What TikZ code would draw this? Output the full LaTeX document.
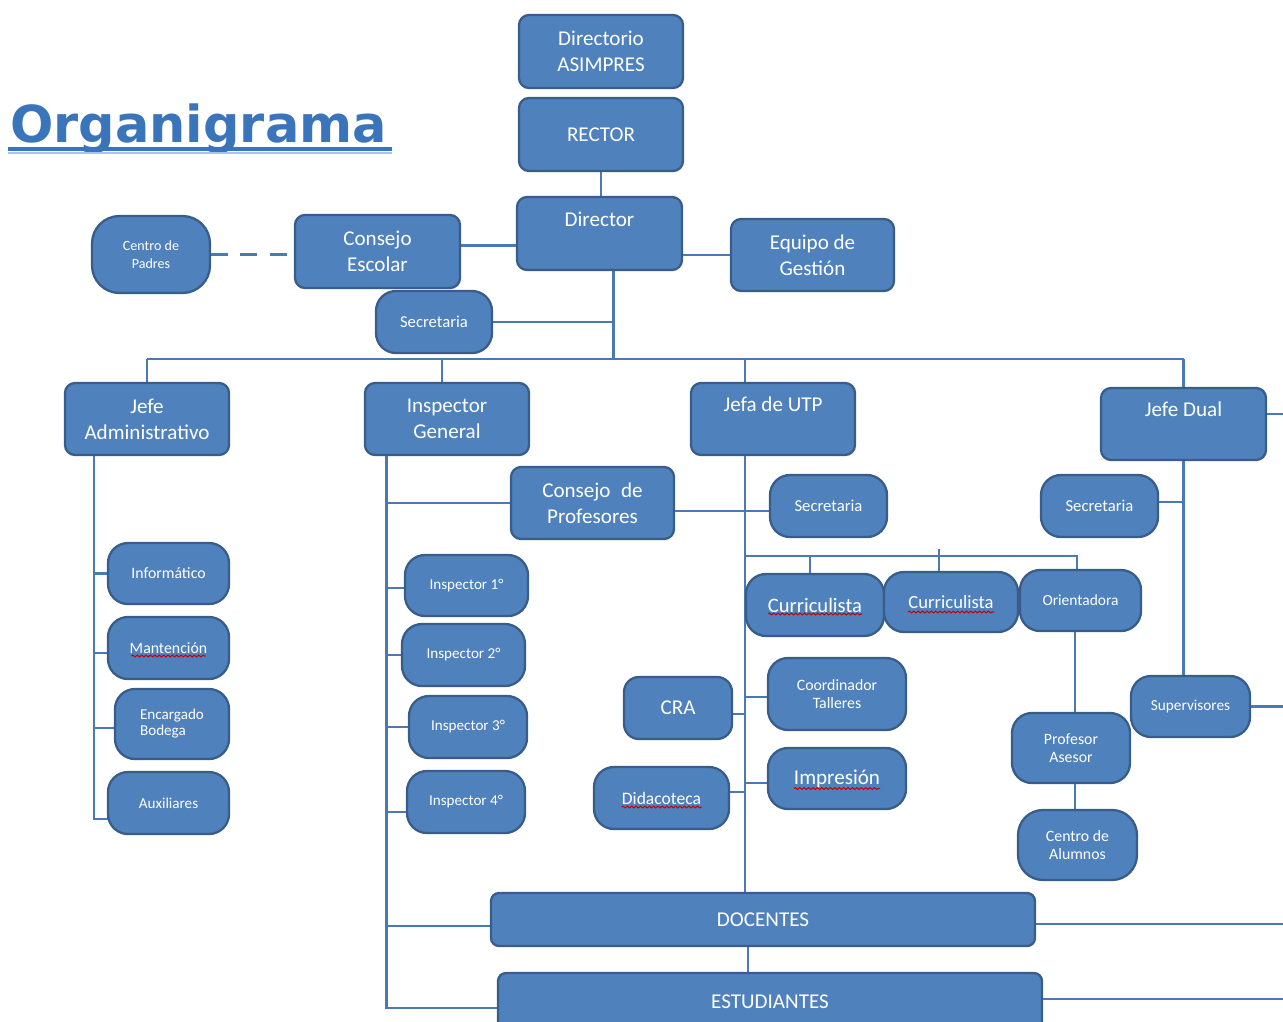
\documentclass[tikz,border=0pt]{standalone}
\usepackage{fontspec}
\setmainfont{Carlito}
\newfontfamily\titlefont{DejaVu Sans}
\usetikzlibrary{calc,backgrounds,decorations.pathmorphing}
\definecolor{boxc}{HTML}{4F81BD}
\definecolor{bord}{HTML}{385D8A}
\definecolor{linec}{HTML}{4A7AB5}
\definecolor{titlec}{HTML}{3A75BC}
\definecolor{titlelight}{HTML}{A9C4E8}
\tikzset{
  sz/.style 2 args={minimum width={#1*0.02cm}, minimum height={#2*0.02cm}},
  fs/.style 2 args={font=\fontsize{#1}{#2}\selectfont},
  box/.style={draw=bord, fill=boxc, line width=1.3pt, text=white, rounded corners=0.2cm,
    inner sep=0pt, outer sep=0pt, align=center, font=\fontsize{12}{14.7}\selectfont},
  pill/.style={box, rounded corners=0.4cm},
  conn/.style={draw=linec, line width=1.6pt},
  squig/.style={draw=red!80!black, line width=0.6pt, decorate,
    decoration={snake, amplitude=0.5pt, segment length=2.5pt}}
}
\begin{document}
\begin{tikzpicture}[x=0.02cm,y=-0.02cm]
\useasboundingbox (0,0) rectangle (1283,1021);
\clip (0,0) rectangle (1283,1021);

% title
\node[font=\titlefont\bfseries\fontsize{29}{30}\selectfont, text=titlec, anchor=base west, inner sep=0pt] (title) at (10,142) {Organigrama};
\draw[titlec, line width=2.2pt] (8,149) -- (392,149);
\draw[titlelight, line width=1pt] (8,153) -- (392,153);

% nodes
\node[box, sz={164}{73}] (dirA) at (601,51.5) {Directorio\\ASIMPRES};
\node[box, sz={164}{73}] (rector) at (601,134.5) {RECTOR};
\node[box, sz={165}{73}] (director) at (599.5,233.5) {Director\\\phantom{g}};
\node[box, sz={163}{72}] (equipo) at (812.5,255) {Equipo de\\Gestión};
\node[box, sz={165}{73}] (consejoE) at (377.5,251.5) {Consejo\\Escolar};
\node[pill, rounded corners=0.55cm, sz={118}{77}, fs={8}{10.2}] (cpadres) at (151,254.5) {Centro de\\Padres};
\node[pill, sz={116}{62}, fs={9.5}{11}] (secre1) at (434,322) {Secretaria};
\node[box, sz={164}{72}] (jadm) at (147,419) {Jefe\\Administrativo};
\node[box, sz={164}{72}] (insG) at (447,419) {Inspector\\General};
\node[box, sz={164}{72}] (utp) at (773,419) {Jefa de UTP\\\phantom{g}};
\node[box, sz={165}{72}] (dual) at (1183.5,424) {Jefe Dual\\\phantom{g}};
\node[box, sz={163}{72}] (cprof) at (592.5,503) {Consejo\enspace de\\Profesores};
\node[pill, sz={117}{62}, fs={9.5}{11}] (secU) at (828.5,506) {Secretaria};
\node[pill, sz={117}{62}, fs={9.5}{11}] (secD) at (1099.5,506) {Secretaria};
\node[pill, sz={138}{62}, fs={11.7}{14}] (cur1) at (815,605) {Curriculista};
\node[pill, sz={134}{60}, fs={10.6}{13}] (cur2) at (951,602) {Curriculista};
\node[pill, sz={121}{61}, fs={8.8}{10.5}] (orient) at (1080.5,600.5) {Orientadora};
\node[pill, sz={138}{72}, fs={9}{10.2}] (coord) at (837,694) {Coordinador\\Talleres};
\node[pill, rounded corners=0.3cm, sz={108}{62}] (cra) at (678,708) {CRA};
\node[pill, sz={138}{61}] (impr) at (837,778.5) {Impresión};
\node[pill, sz={135}{62}, fs={10}{12}] (dida) at (661.5,798) {Didacoteca};
\node[pill, sz={119}{61}, fs={8.7}{10.5}] (superv) at (1190.5,706.5) {Supervisores};
\node[pill, sz={118}{70}, fs={9}{10.2}] (profA) at (1071,748) {Profesor\\Asesor};
\node[pill, rounded corners=0.5cm, sz={119}{70}, fs={9}{10.2}] (cAlum) at (1077.5,845) {Centro de\\Alumnos};
\node[pill, sz={121}{61}, fs={9}{10.5}] (info) at (168.5,573.5) {Informático};
\node[pill, sz={121}{62}, fs={9}{10.5}] (mant) at (168.5,648) {Mantención};
\node[pill, sz={114}{70}, fs={8.6}{9.1}, align=left] (enc) at (172,724) {Encargado\\Bodega};
\node[pill, sz={121}{62}, fs={8.6}{10}] (aux) at (168.5,803) {Auxiliares};
\node[pill, sz={123}{61}, fs={8.6}{10}] (i1) at (466.5,585.5) {Inspector 1°};
\node[pill, sz={123}{62}, fs={8.6}{10}] (i2) at (463.5,655) {Inspector 2°};
\node[pill, sz={118}{62}, fs={8.6}{10}] (i3) at (468,727) {Inspector 3°};
\node[pill, sz={118}{62}, fs={8.6}{10}] (i4) at (466,802) {Inspector 4°};
\node[box, rounded corners=0.16cm, sz={544}{53}] (doc) at (763,919.5) {DOCENTES};
\node[box, rounded corners=0.16cm, sz={544}{57}] (est) at (770,1001.5) {ESTUDIANTES};

% spell-check marks
\draw[squig] ($(mant.center)+(-37,8)$) -- ++(74,0);
\draw[squig] ($(cur1.center)+(-47,9)$) -- ++(94,0);
\draw[squig] ($(cur2.center)+(-43,10)$) -- ++(86,0);
\draw[squig] ($(impr.center)+(-43,10)$) -- ++(86,0);
\draw[squig] ($(dida.center)+(-40,9)$) -- ++(80,0);

% connectors
\begin{scope}[on background layer]
\draw[conn] (rector.center) -- (rector.center |- director.center);
\draw[conn] ($(consejoE.center)+(0,-6)$) coordinate (t1) -- (t1 -| director.center);
\draw[conn, dash pattern=on 10pt off 7pt] (cpadres.east) -- (cpadres.east -| consejoE.west);
\draw[conn] (equipo.center) -- (equipo.center -| director.center);
\coordinate (busY) at (0,359);
\draw[conn] ($(director.center)+(14,0)$) coordinate (ds) -- (ds |- busY);
\draw[conn] (secre1.center) -- (secre1.center -| ds);
\draw[conn] (jadm.center |- busY) -- (dual.center |- busY);
\draw[conn] (jadm.center |- busY) -- (jadm.center);
\draw[conn] ($(insG.center)+(-5,0)$) coordinate (ig) -- (ig |- busY);
\draw[conn] (dual.center) -- (dual.center |- busY);
\coordinate (usp) at ($(utp.center)+(-28,0)$);
\draw[conn] (usp |- busY) -- (usp |- doc.center);
% Jefe administrativo
\coordinate (jsp) at ($(jadm.center)+(-53,0)$);
\draw[conn] (jsp) |- ($(aux.center)+(0,16)$);
\draw[conn] (info.center) -- (info.center -| jsp);
\draw[conn] ($(mant.center)+(0,5)$) coordinate (t2) -- (t2 -| jsp);
\draw[conn] ($(enc.center)+(0,4)$) coordinate (t3) -- (t3 -| jsp);
% Inspector general
\coordinate (isp) at ($(insG.center)+(-60.5,0)$);
\draw[conn] (isp) |- ($(est.center)+(0,6.5)$);
\draw[conn] (cprof.center) -- (cprof.center -| isp);
\draw[conn] ($(i1.center)+(0,2.5)$) coordinate (t4) -- (t4 -| isp);
\draw[conn] (i2.center) -- (i2.center -| isp);
\draw[conn] (i3.center) -- (i3.center -| isp);
\draw[conn] ($(i4.center)+(0,10)$) coordinate (t5) -- (t5 -| isp);
\draw[conn] ($(doc.center)+(0,6.5)$) coordinate (t6) -- (t6 -| isp);
% UTP
\draw[conn] ($(cprof.center)+(0,8)$) coordinate (t7) -- (t7 -| secU.center);
\coordinate (sb) at (0,556);
\draw[conn] (usp |- sb) -| ($(orient.center)+(-3.5,0)$);
\draw[conn] ($(cur1.center)+(-5,0)$) coordinate (c1) -- (c1 |- sb);
\draw[conn] ($(cur2.center)+(-12,0)$) coordinate (c2) -- ($(c2 |- sb)+(0,-7)$);
\draw[conn] ($(orient.center)+(-5.5,0)$) coordinate (o1) -- (o1 |- cAlum.center);
\draw[conn] ($(cra.center)+(0,6)$) coordinate (t8) -- (t8 -| usp);
\draw[conn] ($(coord.center)+(0,3)$) coordinate (t9) -- (t9 -| usp);
\draw[conn] ($(impr.center)+(0,4.5)$) coordinate (t10) -- (t10 -| usp);
\draw[conn] ($(dida.center)+(0,-6)$) coordinate (t11) -- (t11 -| usp);
% Dual
\draw[conn] (dual.center) -- (dual.center |- superv.center);
\draw[conn] ($(secD.center)+(0,-4)$) coordinate (t12) -- (t12 -| dual.center);
\coordinate (redge) at (1283,0);
\draw[conn] ($(dual.center)+(0,-10)$) coordinate (t13) -- (t13 -| redge);
\draw[conn] (superv.center) -- (superv.center -| redge);
\draw[conn] ($(doc.center)+(0,4.5)$) coordinate (t14) -- (t14 -| redge);
\draw[conn] ($(est.center)+(0,-2.5)$) coordinate (t15) -- (t15 -| redge);
\draw[conn] ($(doc.center)+(-15,0)$) coordinate (de) -- (de |- est.center);
\end{scope}
\end{tikzpicture}
\end{document}
